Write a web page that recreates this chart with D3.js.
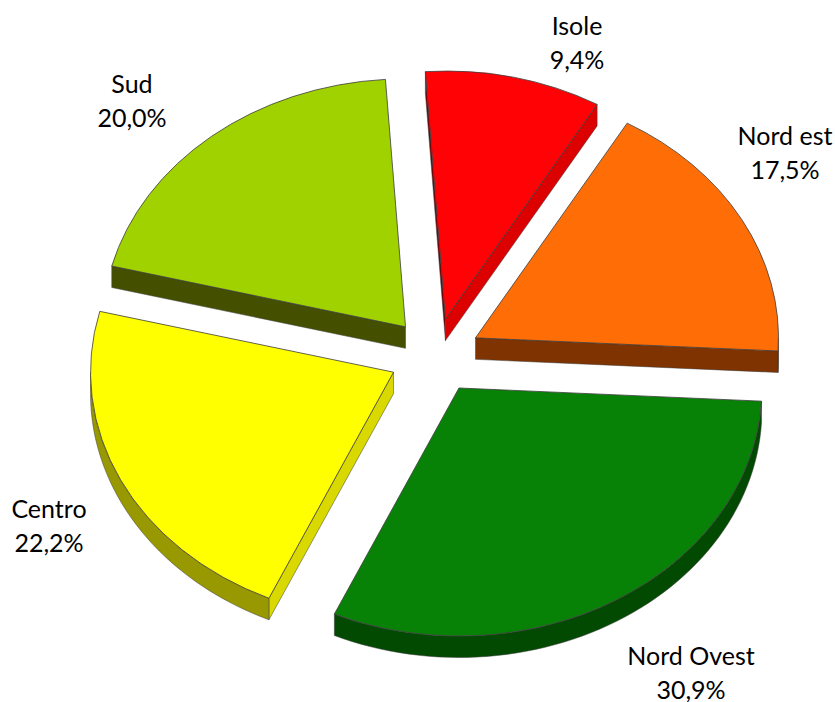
<!DOCTYPE html>
<html>
<head>
<meta charset="utf-8">
<script src="https://cdn.jsdelivr.net/npm/d3@7"></script>
<style>
  html, body { margin: 0; padding: 0; background: #fff; }
  svg { display: block; }
  text { font-family: Lato, "Open Sans", sans-serif; fill: #000; }
</style>
</head>
<body>
<div id="chart"></div>
<script>
// data, clockwise from the top
const regions = ["Isole", "Nord est", "Nord Ovest", "Centro", "Sud"];
const shares = [9.4, 17.5, 30.9, 22.2, 20.0];
const shareLabels = ["9,4%", "17,5%", "30,9%", "22,2%", "20,0%"];

// colours: top face, start wall, end wall, rim
const topColors = ["#fe0206", "#ff6d07", "#078207", "#ffff00", "#a0d200"];
const startWallColors = ["#7a0000", "#7f3300", "#004d00", "#d9d900", "#445000"];
const endWallColors = ["#dc0000", "#7f3300", "#004d00", "#999900", "#445000"];
const rimColors = ["#990000", "#7f3300", "#024a02", "#989800", "#445000"];

const width = 835, height = 702;
const centerX = 435, centerY = 355.8;
const radiusX = 303, radiusY = 248;
const explode = 0.152;
const depth = 21.5;
const fontSize = 25;
const lineGap = 33.5;
const rotation = -3.8 * Math.PI / 180;
const edgeColor = "#3c3c3c";

const svg = d3.select("#chart").append("svg")
  .attr("width", width)
  .attr("height", height);

const slices = d3.pie().sort(null)
  .startAngle(rotation)
  .endAngle(rotation + 2 * Math.PI)(shares);

const arcTop = d3.arc().innerRadius(0).outerRadius(radiusX);
const line = d3.line();

slices.forEach((s, i) => {
  const mid = (s.startAngle + s.endAngle) / 2;
  const tipX = centerX + explode * radiusX * Math.sin(mid);
  const tipY = centerY - explode * radiusY * Math.cos(mid);
  const rim = (a, dy) => [
    tipX + radiusX * Math.sin(a),
    tipY - radiusY * Math.cos(a) + dy
  ];
  const wall = (a, color) => svg.append("path")
    .attr("d", line([[tipX, tipY], rim(a, 0), rim(a, depth), [tipX, tipY + depth]]) + "Z")
    .attr("fill", color)
    .attr("stroke", edgeColor)
    .attr("stroke-width", 0.5);

  // sides first, only those that face the viewer
  if (Math.sin(s.startAngle) < 0) wall(s.startAngle, startWallColors[i]);
  if (Math.sin(s.endAngle) > 0) wall(s.endAngle, endWallColors[i]);

  const from = Math.max(s.startAngle, Math.PI / 2);
  const to = Math.min(s.endAngle, 3 * Math.PI / 2);
  if (to > from) {
    const steps = d3.range(0, 61).map(k => from + (to - from) * k / 60);
    const band = steps.map(a => rim(a, 0)).concat(steps.slice().reverse().map(a => rim(a, depth)));
    svg.append("path")
      .attr("d", line(band) + "Z")
      .attr("fill", rimColors[i])
      .attr("stroke", edgeColor)
      .attr("stroke-width", 0.5);
  }

  // top face
  svg.append("path")
    .attr("d", arcTop(s))
    .attr("transform", `translate(${tipX},${tipY}) scale(1,${radiusY / radiusX})`)
    .attr("fill", topColors[i])
    .attr("stroke", edgeColor)
    .attr("stroke-width", 0.8)
    .attr("vector-effect", "non-scaling-stroke");
});

// ! LABELS ! //
const labelX = [577, 785, 691, 49, 132];
const labelY = [35, 145, 665, 518, 93];

regions.forEach((name, i) => {
  const label = svg.append("text")
    .attr("text-anchor", "middle")
    .attr("font-size", fontSize);
  label.append("tspan").attr("x", labelX[i]).attr("y", labelY[i]).text(name);
  label.append("tspan").attr("x", labelX[i]).attr("y", labelY[i] + lineGap).text(shareLabels[i]);
});
</script>
</body>
</html>
